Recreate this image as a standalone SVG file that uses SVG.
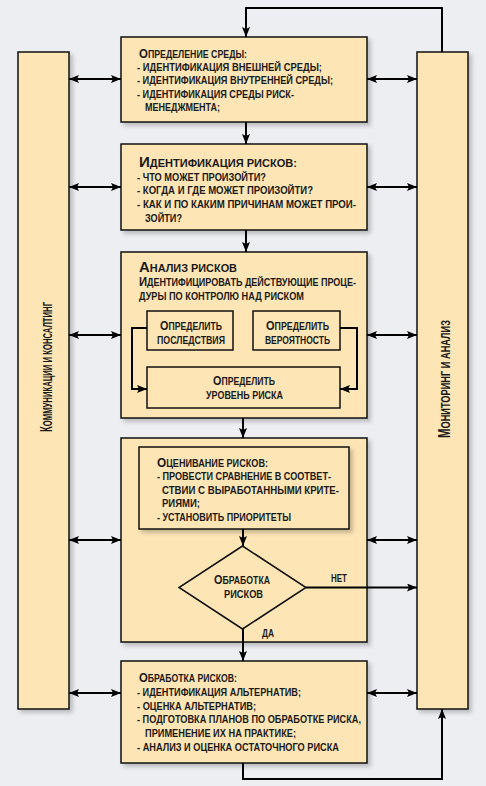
<svg xmlns="http://www.w3.org/2000/svg" width="486" height="786" viewBox="0 0 486 786">
<defs>
<style>
.box{fill:#fde5b5;stroke:#111;stroke-width:1.5}
.ib{fill:#fde5b5;stroke:#111;stroke-width:1.5}
.t{font-family:"Liberation Sans Narrow","Liberation Sans",Arial,sans-serif;font-weight:bold;fill:#1a1a1a;font-size:10px}
.c13{font-size:13px}
.c14{font-size:14px}
.c15{font-size:15px}
.s11{font-size:11px}
.s12{font-size:12.5px}
.bl{font-size:13px}
.ln{stroke:#000;stroke-width:2;fill:none}
.ar{marker-end:url(#ah)}
.da{marker-start:url(#ah);marker-end:url(#ah)}
</style>
<filter id="sh" x="-10%" y="-10%" width="130%" height="130%">
<feDropShadow dx="3" dy="3" stdDeviation="2" flood-color="#000" flood-opacity="0.22"/>
</filter>
<marker id="ah" viewBox="0 0 10 8" refX="10" refY="4" markerWidth="10" markerHeight="8" markerUnits="userSpaceOnUse" orient="auto-start-reverse">
<path d="M0,0 L10,4 L0,8 L2,4 z" fill="#000"/>
</marker>
</defs>
<rect x="0" y="0" width="486" height="786" fill="#eceef1"/>

<g id="comm">
<rect class="box" x="18" y="52" width="51" height="657" filter="url(#sh)"/>
<text class="t bl" transform="translate(52,367) rotate(-90)" text-anchor="middle" textLength="130" lengthAdjust="spacingAndGlyphs"><tspan style="font-size:16px">К</tspan>ОММУНИКАЦИИ И КОНСАЛТИНГ</text>
</g>

<g id="monitor">
<rect class="box" x="417" y="52" width="51" height="657" filter="url(#sh)"/>
<text class="t bl" transform="translate(450,379) rotate(-90)" text-anchor="middle" textLength="118" lengthAdjust="spacingAndGlyphs"><tspan style="font-size:16px">М</tspan>ОНИТОРИНГ И АНАЛИЗ</text>
</g>

<g id="box1">
<rect class="box" x="121" y="37" width="246" height="85" filter="url(#sh)"/>
<text class="t" x="139" y="57.5" textLength="108" lengthAdjust="spacingAndGlyphs"><tspan class="c13">О</tspan>ПРЕДЕЛЕНИЕ СРЕДЫ:</text>
<text class="t" x="137" y="71" textLength="185" lengthAdjust="spacingAndGlyphs">- ИДЕНТИФИКАЦИЯ ВНЕШНЕЙ СРЕДЫ;</text>
<text class="t" x="137" y="84" textLength="196" lengthAdjust="spacingAndGlyphs">- ИДЕНТИФИКАЦИЯ ВНУТРЕННЕЙ СРЕДЫ;</text>
<text class="t" x="137" y="97.5" textLength="157" lengthAdjust="spacingAndGlyphs">- ИДЕНТИФИКАЦИЯ СРЕДЫ РИСК-</text>
<text class="t" x="145" y="111" textLength="75" lengthAdjust="spacingAndGlyphs">МЕНЕДЖМЕНТА;</text>
</g>

<g id="box2">
<rect class="box" x="121" y="144" width="246" height="86" filter="url(#sh)"/>
<text class="t s11" x="139" y="167" textLength="158" lengthAdjust="spacingAndGlyphs"><tspan class="c15">И</tspan>ДЕНТИФИКАЦИЯ РИСКОВ:</text>
<text class="t" x="137" y="180.5" textLength="129" lengthAdjust="spacingAndGlyphs">- ЧТО МОЖЕТ ПРОИЗОЙТИ?</text>
<text class="t" x="137" y="194" textLength="176" lengthAdjust="spacingAndGlyphs">- КОГДА И ГДЕ МОЖЕТ ПРОИЗОЙТИ?</text>
<text class="t" x="137" y="208" textLength="219" lengthAdjust="spacingAndGlyphs">- КАК И ПО КАКИМ ПРИЧИНАМ МОЖЕТ ПРОИ-</text>
<text class="t" x="145" y="222" textLength="37" lengthAdjust="spacingAndGlyphs">ЗОЙТИ?</text>
</g>

<g id="box3">
<rect class="box" x="121" y="252" width="246" height="166" filter="url(#sh)"/>
<text class="t s11" x="139" y="272" textLength="98" lengthAdjust="spacingAndGlyphs"><tspan class="c15">А</tspan>НАЛИЗ РИСКОВ</text>
<text class="t" x="139" y="286" textLength="217" lengthAdjust="spacingAndGlyphs"><tspan class="s12">И</tspan>ДЕНТИФИЦИРОВАТЬ ДЕЙСТВУЮЩИЕ ПРОЦЕ-</text>
<text class="t" x="139" y="299.5" textLength="165" lengthAdjust="spacingAndGlyphs">ДУРЫ ПО КОНТРОЛЮ НАД РИСКОМ</text>
</g>

<g id="consequences">
<rect class="ib" x="147" y="311" width="86" height="39"/>
<text class="t" x="160" y="330" textLength="62" lengthAdjust="spacingAndGlyphs"><tspan class="s12">О</tspan>ПРЕДЕЛИТЬ</text>
<text class="t" x="157" y="344" textLength="68" lengthAdjust="spacingAndGlyphs">ПОСЛЕДСТВИЯ</text>
</g>

<g id="probability">
<rect class="ib" x="253" y="311" width="87" height="39"/>
<text class="t" x="266" y="330" textLength="63" lengthAdjust="spacingAndGlyphs"><tspan class="s12">О</tspan>ПРЕДЕЛИТЬ</text>
<text class="t" x="265" y="344" textLength="65" lengthAdjust="spacingAndGlyphs">ВЕРОЯТНОСТЬ</text>
</g>

<g id="risklevel">
<rect class="ib" x="147" y="367" width="193" height="41"/>
<text class="t" x="213" y="385" textLength="62" lengthAdjust="spacingAndGlyphs"><tspan class="s12">О</tspan>ПРЕДЕЛИТЬ</text>
<text class="t" x="206" y="399" textLength="77" lengthAdjust="spacingAndGlyphs">УРОВЕНЬ РИСКА</text>
</g>

<g id="box4">
<rect class="box" x="121" y="438" width="246" height="204" filter="url(#sh)"/>
</g>

<g id="evaluation">
<rect class="ib" x="139" y="447" width="210" height="82" filter="url(#sh)"/>
<text class="t" x="157" y="466.5" textLength="111" lengthAdjust="spacingAndGlyphs"><tspan class="c13">О</tspan>ЦЕНИВАНИЕ РИСКОВ:</text>
<text class="t" x="157" y="480" textLength="174" lengthAdjust="spacingAndGlyphs">- ПРОВЕСТИ СРАВНЕНИЕ В СООТВЕТ-</text>
<text class="t" x="162" y="493.5" textLength="177" lengthAdjust="spacingAndGlyphs">СТВИИ С ВЫРАБОТАННЫМИ КРИТЕ-</text>
<text class="t" x="162" y="507" textLength="38" lengthAdjust="spacingAndGlyphs">РИЯМИ;</text>
<text class="t" x="157" y="521" textLength="134" lengthAdjust="spacingAndGlyphs">- УСТАНОВИТЬ ПРИОРИТЕТЫ</text>
</g>

<g id="decision">
<polygon class="ib" points="242.5,546 306,587.5 242.5,629 179,587.5"/>
<text class="t" x="214" y="584" textLength="56" lengthAdjust="spacingAndGlyphs"><tspan class="s12">О</tspan>БРАБОТКА</text>
<text class="t" x="224" y="598" textLength="39" lengthAdjust="spacingAndGlyphs">РИСКОВ</text>
</g>

<g id="box5">
<rect class="box" x="121" y="661" width="246" height="102" filter="url(#sh)"/>
<text class="t" x="139" y="682" textLength="98" lengthAdjust="spacingAndGlyphs"><tspan class="c13">О</tspan>БРАБОТКА РИСКОВ:</text>
<text class="t" x="137" y="696" textLength="164" lengthAdjust="spacingAndGlyphs">- ИДЕНТИФИКАЦИЯ АЛЬТЕРНАТИВ;</text>
<text class="t" x="137" y="709.5" textLength="119" lengthAdjust="spacingAndGlyphs">- ОЦЕНКА АЛЬТЕРНАТИВ;</text>
<text class="t" x="137" y="723" textLength="224" lengthAdjust="spacingAndGlyphs">- ПОДГОТОВКА ПЛАНОВ ПО ОБРАБОТКЕ РИСКА,</text>
<text class="t" x="145" y="737" textLength="151" lengthAdjust="spacingAndGlyphs">ПРИМЕНЕНИЕ ИХ НА ПРАКТИКЕ;</text>
<text class="t" x="137" y="751" textLength="202" lengthAdjust="spacingAndGlyphs">- АНАЛИЗ И ОЦЕНКА ОСТАТОЧНОГО РИСКА</text>
</g>

<g id="connectors">
<path class="ln ar" d="M442,52 V8 H246 V37"/>
<path class="ln ar" d="M246,122 V144"/>
<path class="ln ar" d="M246,230 V252"/>
<path class="ln ar" d="M243,418 V438"/>
<path class="ln ar" d="M243,529 V546"/>
<path class="ln ar" d="M243,629 V661"/>
<path class="ln ar" d="M306,587.5 H417"/>
<path class="ln ar" d="M243,763 V779 H442 V709"/>
<path class="ln ar" d="M147,328 H132 V389 H147"/>
<path class="ln ar" d="M340,328 H357 V389 H340"/>
<path class="ln da" d="M69,79 H121"/>
<path class="ln da" d="M69,187 H121"/>
<path class="ln da" d="M69,335 H121"/>
<path class="ln da" d="M69,540 H121"/>
<path class="ln da" d="M69,693 H121"/>
<path class="ln da" d="M367,79 H417"/>
<path class="ln da" d="M367,187 H417"/>
<path class="ln da" d="M367,335 H417"/>
<path class="ln da" d="M367,540 H417"/>
<path class="ln da" d="M367,693 H417"/>
<text class="t" x="331" y="582" textLength="16" lengthAdjust="spacingAndGlyphs">НЕТ</text>
<text class="t" x="262" y="637" textLength="12" lengthAdjust="spacingAndGlyphs">ДА</text>
</g>
</svg>
